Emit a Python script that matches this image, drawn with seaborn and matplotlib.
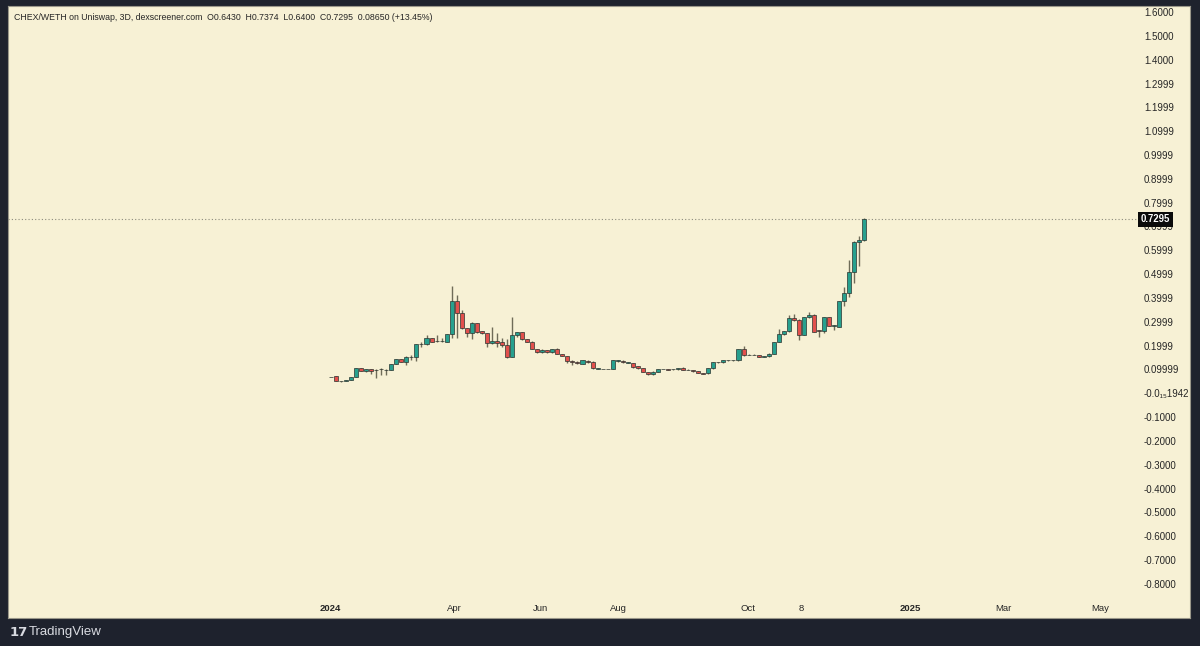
import matplotlib
matplotlib.use("Agg")
import matplotlib.pyplot as plt
import matplotlib.transforms as mtransforms
import numpy as np
import pandas as pd
import seaborn as sns

# ---------------- data (CHEX/WETH, 3D candles) ----------------
opens = [
    0.068, 0.072, 0.051, 0.051, 0.055, 0.069, 0.106, 0.095, 0.100, 0.096,
    0.100, 0.098, 0.098, 0.122, 0.143, 0.131, 0.151, 0.151, 0.207, 0.206,
    0.231, 0.218, 0.219, 0.216, 0.248, 0.387, 0.336, 0.273, 0.254, 0.294,
    0.261, 0.252, 0.210, 0.221, 0.214, 0.203, 0.153, 0.245, 0.256, 0.227,
    0.216, 0.185, 0.172, 0.182, 0.172, 0.186, 0.165, 0.156, 0.137, 0.132,
    0.123, 0.137, 0.132, 0.103, 0.102, 0.102, 0.102, 0.135, 0.137, 0.128,
    0.126, 0.114, 0.105, 0.090, 0.080, 0.090, 0.102, 0.102, 0.100, 0.100,
    0.107, 0.098, 0.096, 0.092, 0.086, 0.085, 0.105, 0.130, 0.130, 0.138,
    0.138, 0.138, 0.185, 0.161, 0.161, 0.161, 0.153, 0.156, 0.165, 0.216,
    0.248, 0.260, 0.315, 0.308, 0.245, 0.319, 0.329, 0.263, 0.262, 0.320,
    0.284, 0.280, 0.387, 0.420, 0.510, 0.636, 0.6430]
highs = [
    0.069, 0.073, 0.052, 0.056, 0.070, 0.107, 0.107, 0.101, 0.101, 0.101,
    0.105, 0.101, 0.122, 0.143, 0.144, 0.155, 0.160, 0.207, 0.215, 0.245,
    0.232, 0.245, 0.232, 0.248, 0.450, 0.413, 0.350, 0.275, 0.300, 0.296,
    0.263, 0.254, 0.280, 0.253, 0.231, 0.227, 0.319, 0.258, 0.258, 0.229,
    0.218, 0.187, 0.184, 0.183, 0.187, 0.188, 0.166, 0.158, 0.138, 0.134,
    0.141, 0.140, 0.134, 0.106, 0.104, 0.104, 0.141, 0.141, 0.138, 0.130,
    0.127, 0.116, 0.106, 0.091, 0.092, 0.103, 0.104, 0.103, 0.102, 0.106,
    0.109, 0.100, 0.098, 0.093, 0.087, 0.105, 0.131, 0.132, 0.139, 0.140,
    0.140, 0.186, 0.199, 0.163, 0.163, 0.162, 0.155, 0.167, 0.217, 0.268,
    0.262, 0.329, 0.332, 0.310, 0.320, 0.342, 0.331, 0.266, 0.320, 0.322,
    0.286, 0.388, 0.445, 0.560, 0.637, 0.662, 0.7374]
lows = [
    0.067, 0.051, 0.049, 0.050, 0.054, 0.068, 0.092, 0.090, 0.081, 0.064,
    0.077, 0.077, 0.097, 0.121, 0.132, 0.119, 0.139, 0.137, 0.195, 0.204,
    0.216, 0.216, 0.215, 0.215, 0.231, 0.231, 0.270, 0.236, 0.227, 0.253,
    0.250, 0.193, 0.208, 0.195, 0.195, 0.150, 0.151, 0.236, 0.223, 0.214,
    0.184, 0.170, 0.170, 0.170, 0.170, 0.163, 0.155, 0.126, 0.119, 0.124,
    0.121, 0.129, 0.103, 0.101, 0.100, 0.100, 0.100, 0.133, 0.128, 0.126,
    0.107, 0.103, 0.088, 0.078, 0.078, 0.089, 0.100, 0.098, 0.099, 0.099,
    0.098, 0.096, 0.091, 0.084, 0.081, 0.083, 0.104, 0.128, 0.129, 0.137,
    0.137, 0.137, 0.158, 0.159, 0.159, 0.151, 0.151, 0.154, 0.164, 0.214,
    0.246, 0.258, 0.305, 0.223, 0.243, 0.316, 0.258, 0.237, 0.253, 0.282,
    0.266, 0.278, 0.366, 0.403, 0.464, 0.534, 0.6400]
closes = [
    0.068, 0.052, 0.050, 0.055, 0.069, 0.106, 0.093, 0.100, 0.092, 0.098,
    0.101, 0.099, 0.122, 0.143, 0.133, 0.151, 0.152, 0.206, 0.208, 0.231,
    0.217, 0.219, 0.220, 0.248, 0.387, 0.336, 0.273, 0.254, 0.294, 0.259,
    0.252, 0.210, 0.221, 0.212, 0.203, 0.153, 0.245, 0.256, 0.227, 0.216,
    0.186, 0.172, 0.182, 0.172, 0.186, 0.165, 0.156, 0.137, 0.131, 0.126,
    0.140, 0.131, 0.105, 0.103, 0.102, 0.102, 0.140, 0.140, 0.130, 0.128,
    0.109, 0.105, 0.090, 0.080, 0.090, 0.102, 0.102, 0.099, 0.100, 0.105,
    0.099, 0.097, 0.092, 0.085, 0.082, 0.105, 0.130, 0.130, 0.138, 0.138,
    0.139, 0.186, 0.161, 0.161, 0.161, 0.153, 0.153, 0.165, 0.216, 0.248,
    0.260, 0.315, 0.308, 0.245, 0.319, 0.329, 0.259, 0.262, 0.320, 0.284,
    0.284, 0.387, 0.420, 0.510, 0.636, 0.643, 0.7295]

last_price = 0.7295
header = ("CHEX/WETH on Uniswap, 3D, dexscreener.com  O0.6430  H0.7374  "
          "L0.6400  C0.7295  0.08650 (+13.45%)")

ytick_vals = [1.6, 1.5, 1.4, 1.3, 1.2, 1.1, 1.0, 0.9, 0.8, 0.7, 0.6, 0.5,
              0.4, 0.3, 0.2, 0.1, 0.0, -0.1, -0.2, -0.3, -0.4, -0.5, -0.6,
              -0.7, -0.8]
ytick_labels = ["1.6000", "1.5000", "1.4000", "1.2999", "1.1999", "1.0999",
                "0.9999", "0.8999", "0.7999", "0.6999", "0.5999", "0.4999",
                "0.3999", "0.2999", "0.1999", "0.09999", "-0.0\u2081\u20851942",
                "-0.1000", "-0.2000", "-0.3000", "-0.4000", "-0.5000",
                "-0.6000", "-0.7000", "-0.8000"]
xtick_labels = ["2024", "Apr", "Jun", "Aug", "Oct", "8", "2025", "Mar", "May"]
xtick_bar = [-0.2, 24.5, 41.6, 57.1, 82.8, 93.4, 115.1, 133.7, 152.8]

df = pd.DataFrame({"open": opens, "high": highs, "low": lows, "close": closes})
df["bar"] = np.arange(len(df))
df["up"] = df["close"] >= df["open"]

# ---------------- style ----------------
sns.set_theme(style="white")
plt.rcParams["font.family"] = ["Liberation Sans", "DejaVu Sans"]

DARK = "#1e222d"
CREAM = "#f7f1d5"
GREEN = "#27a08e"
RED = "#e2504c"
EDGE = "#2a332f"
WICK = "#6f6c58"
TXT = "#262626"

W, H = 1200, 646
fig = plt.figure(figsize=(W / 100, H / 100), dpi=100, facecolor=DARK)

# cream panel (background axes)
bg = fig.add_axes([8 / W, (H - 618) / H, 1182 / W, 612 / H], zorder=-5)
bg.set_facecolor(CREAM)
bg.set_xticks([])
bg.set_yticks([])
for s in bg.spines.values():
    s.set_color("#9a978a")
    s.set_linewidth(0.8)

# chart axes (pixel layout: x 8..1137, y 6..598)
ax_l, ax_r, ax_t, ax_b = 8, 1137, 6, 598
ax = fig.add_axes([ax_l / W, (H - ax_b) / H, (ax_r - ax_l) / W, (ax_b - ax_t) / H],
                  zorder=1)
ax.set_facecolor("none")
for s in ax.spines.values():
    s.set_visible(False)

# price / bar scale
px_per_unit = 238.3
y_at_top_px = 1.6504
ax.set_ylim(y_at_top_px - ax_b / px_per_unit, y_at_top_px - ax_t / px_per_unit)
bar0_px, bar_step = 330.9, 5.032
ax.set_xlim((ax_l - bar0_px) / bar_step, (ax_r - bar0_px) / bar_step)

# candles
colors = np.where(df["up"], GREEN, RED)
ax.vlines(df["bar"], df["low"], df["high"], color=WICK, linewidth=1.0, zorder=2)
body_h = (df["close"] - df["open"]).abs().clip(lower=0.0015)
body_b = df[["open", "close"]].min(axis=1)
ax.bar(df["bar"], body_h, bottom=body_b, width=0.8, color=colors,
       edgecolor=EDGE, linewidth=0.5, zorder=3)

# last-price dotted line
ax.axhline(last_price, color="#8c8a7c", linewidth=0.8, linestyle=(0, (1, 2)), zorder=1)

# y ticks on the right, inside the panel
ax.yaxis.tick_right()
ax.set_yticks(ytick_vals)
ax.set_yticklabels(ytick_labels)
ax.tick_params(axis="y", length=0, pad=5, labelsize=7, labelcolor=TXT)
for lab in ax.get_yticklabels():
    lab.set_horizontalalignment("left")

# last price label box
trans = mtransforms.blended_transform_factory(ax.transAxes, ax.transData)
ax.text(1.0 + 4 / (ax_r - ax_l), last_price, "0.7295", transform=trans,
        ha="left", va="center", fontsize=6.9, fontweight="bold", color="white",
        zorder=10, clip_on=False,
        bbox=dict(boxstyle="square,pad=0.3", facecolor="#0b0b0b", edgecolor="none"))

# x ticks
ax.set_xticks(xtick_bar)
ax.set_xticklabels(xtick_labels)
ax.tick_params(axis="x", length=0, pad=4, labelsize=6.8, labelcolor=TXT)
for lab in ax.get_xticklabels():
    if lab.get_text() in ("2024", "2025"):
        lab.set_fontweight("bold")
ax.grid(False)

# header
fig.text(14 / W, 1 - 18 / H, header, ha="left", va="center", fontsize=6.3,
         color=TXT)

# TradingView footer
fig.text(10 / W, 1 - 632 / H, "17", ha="left", va="center", fontsize=9.5,
         fontweight="bold", color="#d8dae0", family=["DejaVu Sans"])
fig.text(29 / W, 1 - 632 / H, "TradingView", ha="left", va="center", fontsize=9.5,
         color="#d8dae0")

fig.savefig("out.png", dpi=100, facecolor=DARK)
